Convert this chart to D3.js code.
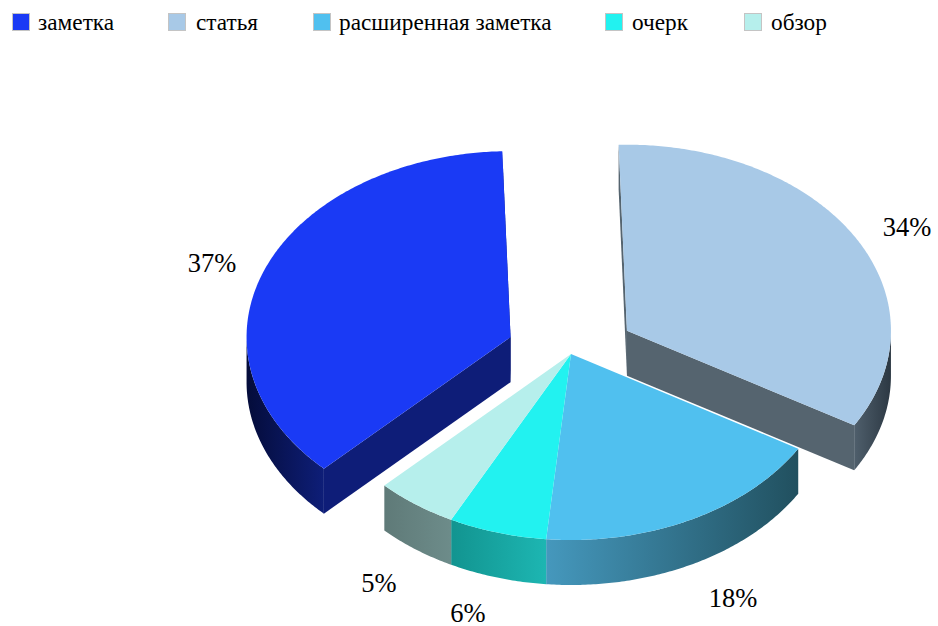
<!DOCTYPE html>
<html>
<head>
<meta charset="utf-8">
<script src="https://cdn.jsdelivr.net/npm/d3@7/dist/d3.min.js"></script>
<style>
html,body{margin:0;padding:0;background:#fff;}
svg{display:block;}
text{font-family:"Liberation Serif",serif;fill:#000;}
</style>
</head>
<body>
<svg id="chart" width="938" height="626"></svg>
<script>
// ---- data ----
const categories = ["заметка", "статья", "расширенная заметка", "очерк", "обзор"];
const values = [37, 34, 18, 6, 5];
const percentLabels = ["37%", "34%", "18%", "6%", "5%"];
const exploded = [1, 1, 0, 0, 0];

// ---- styles ----
const topColors = ["#1a3af5", "#a8c9e7", "#50c0ef", "#22f2f0", "#b6efec"];
const cutColors = ["#0e1d78", "#55646f", "#2a6276", "#129490", "#5f7a78"];
const wallLeft  = ["#040c3a", "#4f5f6c", "#4598bd", "#129490", "#5f7a78"];
const wallRight = ["#0e1e78", "#2c3843", "#21505f", "#1db6b2", "#6d8c8a"];

// ---- layout ----
const W = 938, H = 626;
const cx = 571, cy = 354, rx = 264, ry = 186, depth = 45, explode = 65 / 264;
const legendSwatchX = [12, 168, 313, 605, 744];
const legendTextX = [38, 196, 339, 632, 771];
const labelX = [212, 907, 733, 468, 379];
const labelY = [272, 236, 607, 622, 592];

const svg = d3.select("#chart");
const xs = d3.scaleLinear().domain([-1, 1]).range([cx - rx, cx + rx]);
const ys = d3.scaleLinear().domain([-1, 1]).range([cy - ry, cy + ry]);

const TAU = 2 * Math.PI;
const start = 225 / 360 * TAU;
const slices = d3.pie().sort(null).startAngle(start).endAngle(start + TAU)(values);

const line = d3.line().x(d => d[0]).y(d => d[1]);

function unit(a, ox, oy) { return [ox + Math.sin(a), oy - Math.cos(a)]; }
function screen(p, dz = 0) { return [xs(p[0]), ys(p[1]) + dz]; }
function arcPts(a0, a1, ox, oy, dz = 0) {
  const n = Math.max(2, Math.ceil((a1 - a0) / 0.01));
  return d3.range(n + 1).map(i => screen(unit(a0 + (a1 - a0) * i / n, ox, oy), dz));
}

const defs = svg.append("defs");

// Draw exploded slices first, so that the centre group sits over them
const order = d3.range(values.length).sort((a, b) => exploded[b] - exploded[a]);

order.forEach(i => {
  const s = slices[i];
  const mid = (s.startAngle + s.endAngle) / 2;
  const k = exploded[i] * explode;
  const ox = Math.sin(mid) * k, oy = -Math.cos(mid) * k;
  const g = svg.append("g");
  const apex = screen([ox, oy]);

  // visible part of the outer wall: lower half of the ellipse
  const ranges = [];
  [[Math.PI / 2, 3 * Math.PI / 2], [Math.PI / 2 + TAU, 3 * Math.PI / 2 + TAU]].forEach(([lo, hi]) => {
    const a0 = Math.max(s.startAngle, lo), a1 = Math.min(s.endAngle, hi);
    if (a1 > a0) ranges.push([a0, a1]);
  });

  // cut faces are only seen on slices pulled out of the pie
  if (exploded[i]) {
    [s.startAngle, s.endAngle].forEach(a => {
      const p = screen(unit(a, ox, oy));
      const pts = [apex, p, [p[0], p[1] + depth], [apex[0], apex[1] + depth]];
      g.append("path").attr("d", line(pts) + "Z").attr("fill", cutColors[i]);
    });
  }

  ranges.forEach(([a0, a1], j) => {
    const upper = arcPts(a0, a1, ox, oy);
    const lower = arcPts(a0, a1, ox, oy, depth).reverse();
    const xsAll = upper.map(d => d[0]);
    const id = `wall${i}_${j}`;
    const grad = defs.append("linearGradient").attr("id", id)
      .attr("gradientUnits", "userSpaceOnUse")
      .attr("x1", d3.min(xsAll)).attr("x2", d3.max(xsAll)).attr("y1", 0).attr("y2", 0);
    grad.append("stop").attr("offset", 0).attr("stop-color", wallLeft[i]);
    grad.append("stop").attr("offset", 1).attr("stop-color", wallRight[i]);
    g.append("path").attr("d", line(upper.concat(lower)) + "Z").attr("fill", `url(#${id})`);
  });

  // top face
  const topPts = [apex].concat(arcPts(s.startAngle, s.endAngle, ox, oy));
  g.append("path").attr("d", line(topPts) + "Z").attr("fill", topColors[i]);
});

// percent labels
svg.append("g").selectAll("text").data(percentLabels).join("text")
  .attr("x", (d, i) => labelX[i]).attr("y", (d, i) => labelY[i])
  .attr("text-anchor", "middle").attr("font-size", 26.5).text(d => d);

// legend
const legend = svg.append("g").selectAll("g").data(categories).join("g");
legend.append("rect")
  .attr("x", (d, i) => legendSwatchX[i] + 0.5).attr("y", 13.5)
  .attr("width", 17).attr("height", 17)
  .attr("fill", (d, i) => topColors[i]).attr("stroke", "#c4c4c4").attr("stroke-width", 1);
legend.append("text")
  .attr("x", (d, i) => legendTextX[i]).attr("y", 30)
  .attr("font-size", 23.3).text(d => d);
</script>
</body>
</html>
